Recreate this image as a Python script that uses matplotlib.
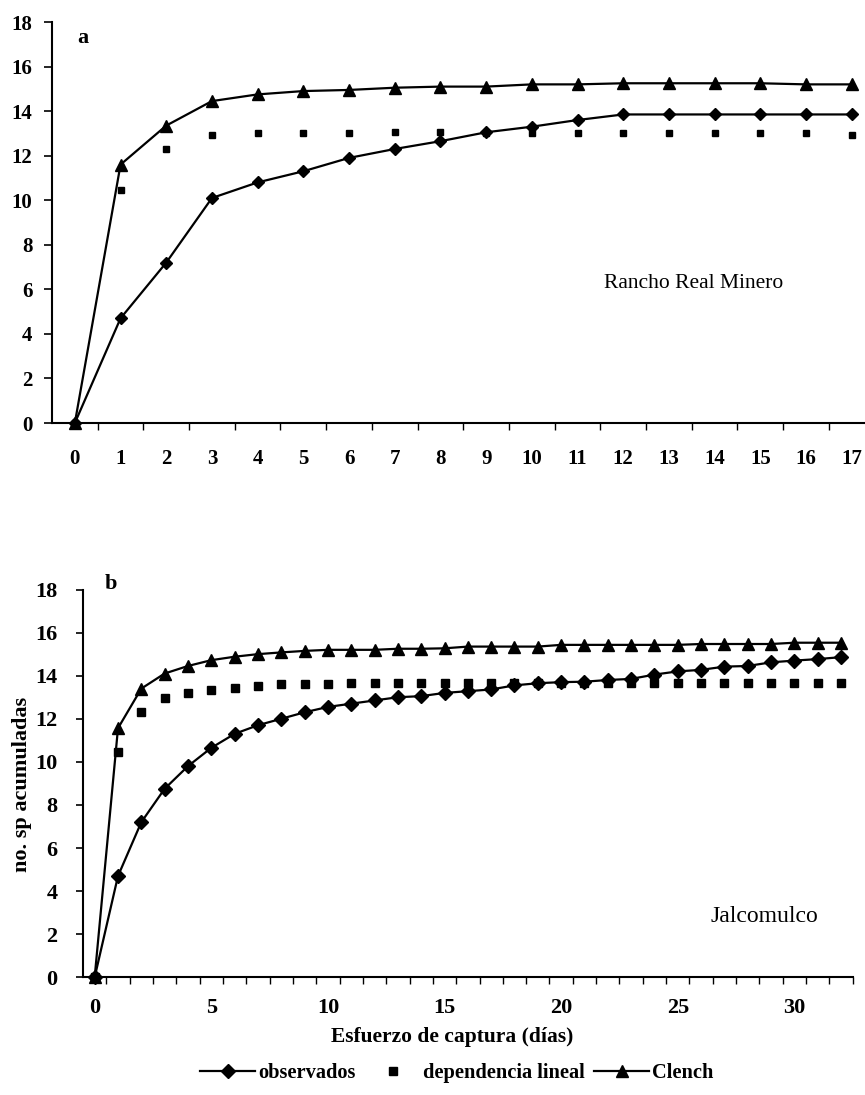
import matplotlib
matplotlib.use("Agg")
import matplotlib.pyplot as plt
from matplotlib.ticker import FixedLocator, NullFormatter

plt.rcParams['font.family'] = ['Liberation Serif', 'DejaVu Serif']

# ---------------- data ----------------
days_a = list(range(18))
obs_a = [0, 4.7, 7.2, 10.1, 10.8, 11.3, 11.9, 12.3, 12.65, 13.05, 13.3, 13.6,
         13.85, 13.85, 13.85, 13.85, 13.85, 13.85]
lin_a = [0, 10.45, 12.3, 12.95, 13.0, 13.0, 13.0, 13.05, 13.05, 13.0, 13.0, 13.0,
         13.0, 13.0, 13.0, 13.0, 13.0, 12.95]
clench_a = [0, 11.6, 13.35, 14.45, 14.75, 14.9, 14.95, 15.05, 15.1, 15.1, 15.2, 15.2,
            15.25, 15.25, 15.25, 15.25, 15.2, 15.2]

days_b = list(range(33))
obs_b = [0, 4.7, 7.2, 8.75, 9.8, 10.65, 11.3, 11.7, 12.0, 12.3, 12.55, 12.7,
         12.85, 13.0, 13.05, 13.2, 13.28, 13.36, 13.55, 13.65, 13.7, 13.72, 13.8,
         13.85, 14.05, 14.2, 14.27, 14.42, 14.45, 14.62, 14.7, 14.77, 14.86]
lin_b = [0, 10.45, 12.3, 12.95, 13.18, 13.35, 13.45, 13.52, 13.6, 13.6, 13.6,
         13.68, 13.67, 13.67, 13.67, 13.67, 13.65, 13.65, 13.65, 13.65, 13.65,
         13.65, 13.65, 13.65, 13.65, 13.65, 13.65, 13.65, 13.65, 13.65, 13.65,
         13.65, 13.65]
clench_b = [0, 11.56, 13.4, 14.1, 14.45, 14.72, 14.88, 15.0, 15.08, 15.15, 15.2,
            15.2, 15.2, 15.25, 15.25, 15.27, 15.35, 15.35, 15.35, 15.35, 15.43,
            15.43, 15.43, 15.43, 15.43, 15.43, 15.47, 15.47, 15.47, 15.47, 15.53,
            15.53, 15.53]

y_ticks = [0, 2, 4, 6, 8, 10, 12, 14, 16, 18]
xlabels_b = [0, 5, 10, 15, 20, 25, 30]

series_names = ["observados", "dependencia lineal", "Clench"]
site_a = "Rancho Real Minero"
site_b = "Jalcomulco"
xlabel = "Esfuerzo de captura (días)"
ylabel = "no. sp acumuladas"

# ---------------- figure ----------------
W, H = 865, 1095
fig = plt.figure(figsize=(W / 100, H / 100), dpi=100)


def rect(l, r, b, t):
    return [l / W, 1 - b / H, (r - l) / W, (b - t) / H]


def style_axes(ax):
    for s in ("top", "right"):
        ax.spines[s].set_visible(False)
    for s in ("left", "bottom"):
        ax.spines[s].set_linewidth(1.5)
        ax.spines[s].set_color("black")


# ----- panel a -----
axa = fig.add_axes(rect(52, 865, 423, 22))
style_axes(axa)
axa.plot(days_a, obs_a, color="black", lw=1.6, marker="D", ms=6, clip_on=False, zorder=3)
axa.plot(days_a, lin_a, color="black", lw=0, marker="s", ms=4, clip_on=False, zorder=4)
axa.plot(days_a, clench_a, color="black", lw=1.6, marker="^", ms=8.5, clip_on=False, zorder=3)
axa.set_xlim(-0.5, 17.29)
axa.set_ylim(0, 18)
axa.set_yticks(y_ticks)
axa.set_xticks(days_a)
axa.set_xticklabels([str(d) for d in days_a])
axa.xaxis.set_minor_locator(FixedLocator([d + 0.5 for d in days_a]))
axa.xaxis.set_minor_formatter(NullFormatter())
axa.tick_params(axis="x", which="major", length=0, pad=19, labelsize=15)
axa.tick_params(axis="x", which="minor", length=5, width=1, direction="out")
axa.tick_params(axis="y", which="major", length=6, width=1.2, pad=8, labelsize=15)
for lab in axa.get_xticklabels() + axa.get_yticklabels():
    lab.set_fontweight("bold")
fig.text(83 / W, 1 - 38 / H, "a", fontsize=16, fontweight="bold",
         ha="center", va="center")
fig.text(694 / W, 1 - 284 / H, site_a, fontsize=15.5, ha="center", va="center")

# ----- panel b -----
axb = fig.add_axes(rect(83, 852.7, 977.3, 589.5))
style_axes(axb)
l1, = axb.plot(days_b, obs_b, color="black", lw=1.6, marker="D", ms=7, clip_on=False, zorder=3)
l2, = axb.plot(days_b, lin_b, color="black", lw=0, marker="s", ms=6, clip_on=False, zorder=4)
l3, = axb.plot(days_b, clench_b, color="black", lw=1.6, marker="^", ms=9, clip_on=False, zorder=3)
axb.set_xlim(-0.5, 32.5)
axb.set_ylim(0, 18)
axb.set_yticks(y_ticks)
axb.set_xticks(xlabels_b)
axb.set_xticklabels([str(d) for d in xlabels_b])
axb.xaxis.set_minor_locator(FixedLocator([d + 0.5 for d in days_b]))
axb.xaxis.set_minor_formatter(NullFormatter())
axb.tick_params(axis="x", which="major", length=0, pad=15, labelsize=16)
axb.tick_params(axis="x", which="minor", length=5, width=1, direction="out")
axb.tick_params(axis="y", which="major", length=5, width=1.2, pad=13.5, labelsize=16)
for lab in axb.get_xticklabels() + axb.get_yticklabels():
    lab.set_fontweight("bold")
fig.text(111 / W, 1 - 584 / H, "b", fontsize=16, fontweight="bold",
         ha="center", va="center")
fig.text(764 / W, 1 - 916 / H, site_b, fontsize=17, ha="center", va="center")

fig.text(452 / W, 1 - 1037 / H, xlabel, fontsize=15.5, fontweight="bold",
         ha="center", va="center")
fig.text(22 / W, 1 - 784 / H, ylabel, fontsize=16, fontweight="bold",
         ha="center", va="center", rotation=90)

fig.legend([l1, l2, l3], series_names, loc="center", bbox_to_anchor=(457 / W, 1 - 1073 / H),
           ncol=3, frameon=False, prop={"size": 14.7, "weight": "bold"},
           handlelength=2.7, handletextpad=0.15, columnspacing=0.45,
           borderpad=0, borderaxespad=0)

fig.savefig("out.png", dpi=100)
